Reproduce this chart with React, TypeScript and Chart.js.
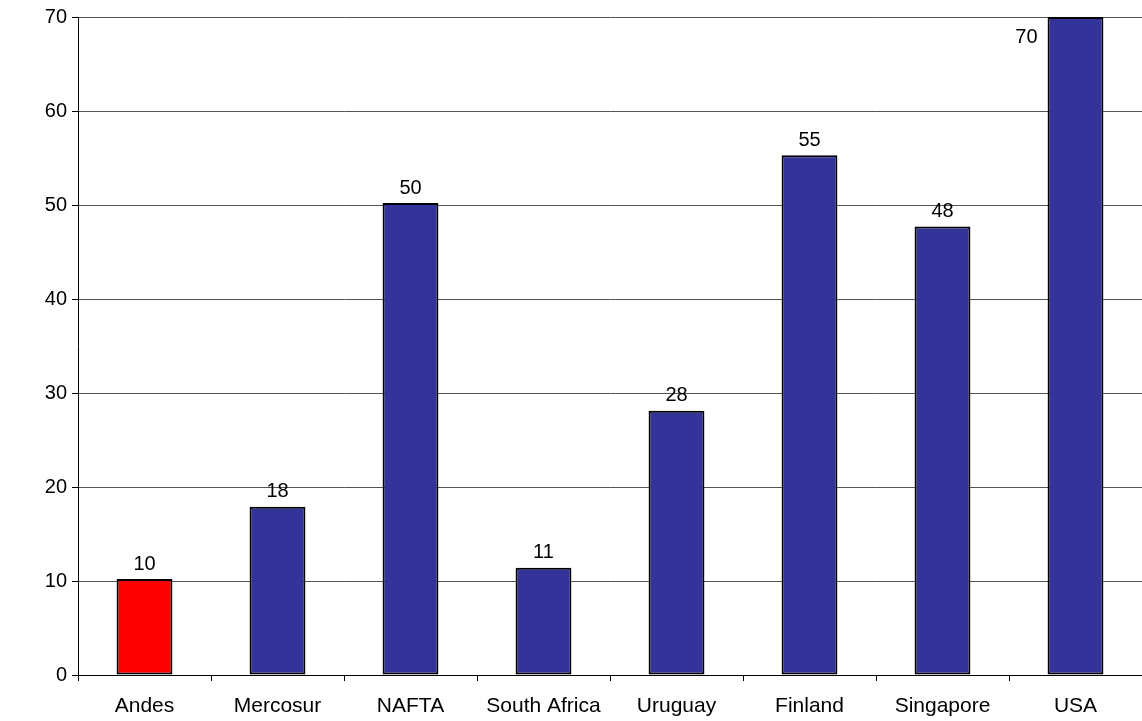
import React, { useEffect, useRef } from "react";
import { Chart, registerables } from "chart.js";

Chart.register(...registerables);

const categories = ["Andes", "Mercosur", "NAFTA", "South Africa", "Uruguay", "Finland", "Singapore", "USA"];
const values = [10.2, 17.9, 50.2, 11.4, 28.1, 55.3, 47.7, 70.0];
const barColors = ["#FF0000", "#333399", "#333399", "#333399", "#333399", "#333399", "#333399", "#333399"];
const yTicks = [0, 10, 20, 30, 40, 50, 60, 70];

const FONT = "'Liberation Sans', Arial, Helvetica, sans-serif";

// Writes each bar's rounded value above it; when there is no room above, beside it.
const valueLabels = {
  id: "valueLabels",
  afterDatasetsDraw(chart: any) {
    const { ctx, chartArea } = chart;
    const meta = chart.getDatasetMeta(0);
    ctx.save();
    ctx.font = `20px ${FONT}`;
    ctx.fillStyle = "#000";
    ctx.textBaseline = "middle";
    meta.data.forEach((bar: any, i: number) => {
      const text = String(Math.round(values[i]));
      const y = bar.y - 15;
      if (y - 10 < chartArea.top) {
        ctx.textAlign = "right";
        ctx.fillText(text, bar.x - bar.width / 2 - 10, bar.y + 20);
      } else {
        ctx.textAlign = "center";
        ctx.fillText(text, bar.x, y);
      }
    });
    ctx.restore();
  },
};

export default function App() {
  const ref = useRef<HTMLCanvasElement | null>(null);

  useEffect(() => {
    if (!ref.current) return;
    const chart = new Chart(ref.current, {
      type: "bar",
      data: {
        labels: categories,
        datasets: [
          {
            data: values,
            backgroundColor: barColors,
            borderColor: "#000",
            borderWidth: 2,
            borderSkipped: false,
            barPercentage: 0.42,
            categoryPercentage: 1,
          },
        ],
      },
      options: {
        animation: false,
        responsive: true,
        maintainAspectRatio: false,
        layout: { padding: { top: 17, right: 0, left: 0, bottom: 0 } },
        plugins: { legend: { display: false }, tooltip: { enabled: false } },
        scales: {
          x: {
            offset: true,
            grid: {
              offset: true,
              drawOnChartArea: false,
              drawTicks: true,
              tickLength: 6,
              tickColor: "#000",
            },
            border: { display: true, color: "#000", width: 1 },
            ticks: {
              color: "#000",
              font: { family: FONT, size: 21 },
              padding: 13,
              maxRotation: 0,
              autoSkip: false,
            },
            afterFit: (s: any) => {
              s.height = 46;
            },
          },
          y: {
            min: 0,
            max: 70,
            afterBuildTicks: (s: any) => {
              s.ticks = yTicks.map((v) => ({ value: v }));
            },
            grid: {
              color: "#555",
              lineWidth: 1,
              drawTicks: true,
              tickLength: 6,
              tickColor: "#000",
            },
            border: { display: true, color: "#000", width: 1 },
            ticks: {
              color: "#000",
              font: { family: FONT, size: 20 },
              padding: 5,
            },
            afterFit: (s: any) => {
              s.width = 78;
            },
          },
        },
      },
      plugins: [valueLabels],
    });
    return () => chart.destroy();
  }, []);

  return (
    <div style={{ position: "fixed", left: 0, top: 0, width: 1142, height: 721, background: "#fff" }}>
      <canvas ref={ref} />
    </div>
  );
}
